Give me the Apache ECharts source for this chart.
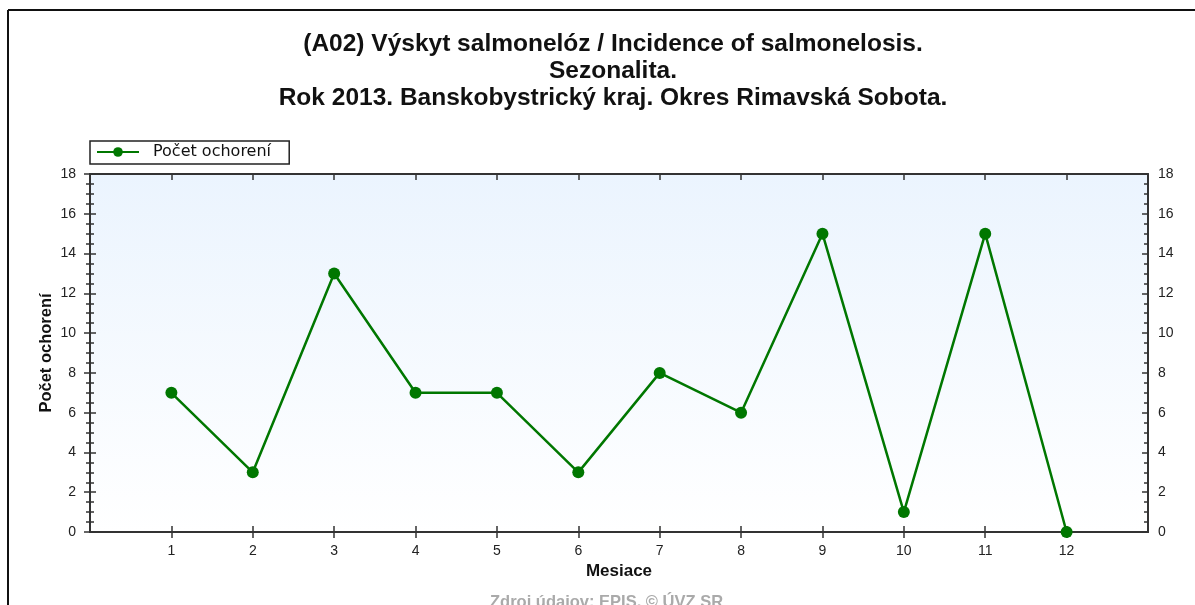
<!DOCTYPE html>
<html>
<head>
<meta charset="utf-8">
<script src="https://cdn.jsdelivr.net/npm/echarts@6/dist/echarts.min.js"></script>
<style>
html,body{margin:0;padding:0;background:#fff;}
#chart{width:1195px;height:605px;}
</style>
</head>
<body>
<div id="chart"></div>
<script>
const months = [1,2,3,4,5,6,7,8,9,10,11,12];
const cases = [7,3,13,7,7,3,8,6,15,1,15,0];
const seriesName = 'Počet ochorení';
const titleLines = ['(A02) Výskyt salmonelóz / Incidence of salmonelosis.', 'Sezonalita.', 'Rok 2013. Banskobystrický kraj. Okres Rimavská Sobota.'];
const xName = 'Mesiace';
const sourceText = 'Zdroj údajov: EPIS, © ÚVZ SR';

const FONT = 'Liberation Sans, Arial, sans-serif';
const AX = '#333';
const chart = echarts.init(document.getElementById('chart'));

function xAx(pos, inside, opts) {
  return Object.assign({
    type: 'value', position: pos, min: 0, max: 13, interval: 1,
    axisLine: {show: true, onZero: false, lineStyle: {color: AX, width: 2}},
    axisTick: {show: true, inside: inside, length: 6, customValues: months, lineStyle: {color: AX, width: 1.5}},
    axisLabel: {show: false},
    splitLine: {show: false}
  }, opts || {});
}
function yAx(pos, inside, opts) {
  return Object.assign({
    type: 'value', position: pos, min: 0, max: 18, interval: 2,
    axisLine: {show: true, lineStyle: {color: AX, width: 2}},
    axisTick: {show: true, inside: inside, length: 6, lineStyle: {color: AX, width: 1.5}},
    minorTick: {show: true, splitNumber: 4, length: 4, lineStyle: {color: AX, width: 1.5}},
    axisLabel: {show: false},
    splitLine: {show: false}
  }, opts || {});
}

const option = {
  animation: false,
  backgroundColor: '#fff',
  title: {
    text: titleLines.join('\n'),
    left: 608, top: 26, textAlign: 'center',
    textStyle: {fontFamily: FONT, fontSize: 24.5, fontWeight: 'bold', color: '#111', lineHeight: 27}
  },
  legend: {
    left: 90, top: 141, padding: [3, 8, 4, 6],
    borderColor: '#222', borderWidth: 1.5, borderRadius: 0,
    itemWidth: 42, itemHeight: 12, itemGap: 10,
    formatter: name => name + '  ',
    textStyle: {fontFamily: 'DejaVu Sans, sans-serif', fontSize: 16, color: '#111', padding: [0, 0, 0, 9]},
    data: [seriesName]
  },
  grid: {
    left: 90, right: 47, top: 174, bottom: 73, show: true, borderWidth: 0,
    backgroundColor: new echarts.graphic.LinearGradient(0, 0, 0, 1, [
      {offset: 0, color: '#ebf4fe'}, {offset: 1, color: '#ffffff'}
    ])
  },
  xAxis: [
    xAx('bottom', false, {
      name: xName, nameLocation: 'middle', nameGap: 31,
      nameTextStyle: {fontFamily: FONT, fontSize: 17, fontWeight: 'bold', color: '#111'},
      axisLabel: {show: true, customValues: months, margin: 12, fontFamily: FONT, fontSize: 14, color: '#222'}
    }),
    xAx('bottom', true),
    xAx('top', true)
  ],
  yAxis: [
    yAx('left', false, {
      name: seriesName, nameLocation: 'middle', nameGap: 35, nameMoveOverlap: false,
      nameTextStyle: {fontFamily: FONT, fontSize: 16.5, fontWeight: 'bold', color: '#111'},
      axisLabel: {show: true, margin: 14, fontFamily: FONT, fontSize: 14, color: '#222'}
    }),
    yAx('left', true),
    yAx('right', false, {
      axisLabel: {show: true, margin: 10, fontFamily: FONT, fontSize: 14, color: '#222'}
    }),
    yAx('right', true)
  ],
  graphic: [
    {type: 'line', shape: {x1: 8, y1: 10, x2: 1195, y2: 10}, style: {stroke: '#111', lineWidth: 2}},
    {type: 'line', shape: {x1: 8, y1: 10, x2: 8, y2: 605}, style: {stroke: '#111', lineWidth: 2}},
    {type: 'text', left: 490, top: 594,
      style: {text: sourceText, font: 'bold 16.5px ' + FONT, fill: '#aaaaaa'}}
  ],
  series: [{
    name: seriesName, type: 'line',
    xAxisIndex: 0, yAxisIndex: 0,
    data: months.map((m, i) => [m, cases[i]]),
    symbol: 'circle', symbolSize: 12,
    lineStyle: {color: '#007700', width: 2.5},
    itemStyle: {color: '#007700'},
    clip: false
  }]
};
chart.setOption(option);
</script>
</body>
</html>
